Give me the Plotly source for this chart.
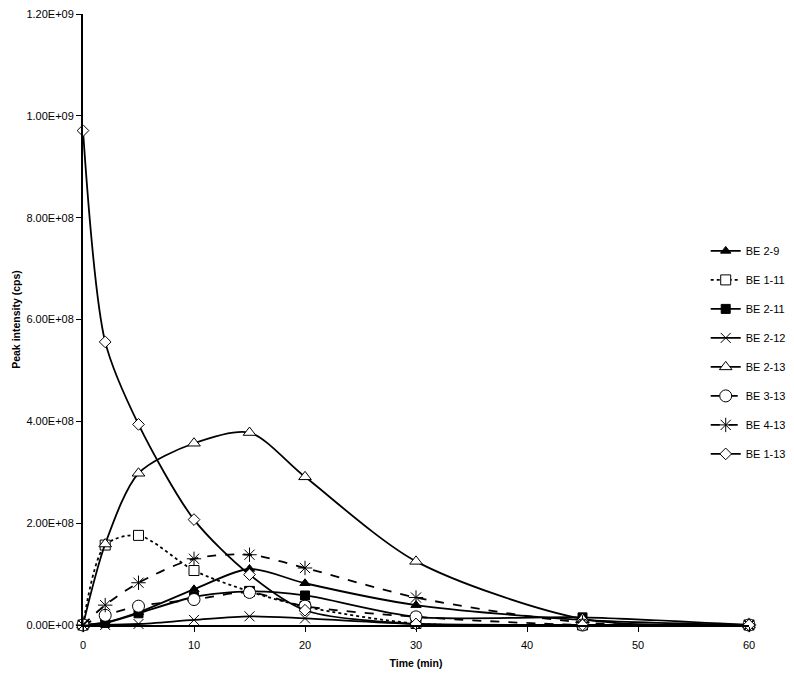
import plotly.graph_objects as go

time_min = [0, 2, 5, 10, 15, 20, 30, 45, 60]

be_2_9 = [0, 0.05e8, 0.25e8, 0.70e8, 1.10e8, 0.82e8, 0.39e8, 0.10e8, 0]
be_1_11 = [0, 1.57e8, 1.76e8, 1.07e8, 0.66e8, 0.36e8, 0.03e8, 0.0, 0]
be_2_11 = [0, 0.04e8, 0.23e8, 0.55e8, 0.66e8, 0.58e8, 0.16e8, 0.15e8, 0]
be_2_12 = [0, 0, 0.02e8, 0.10e8, 0.17e8, 0.13e8, 0.02e8, 0, 0]
be_2_13 = [0, 1.59e8, 2.98e8, 3.57e8, 3.78e8, 2.91e8, 1.25e8, 0.12e8, 0]
be_3_13 = [0, 0.19e8, 0.37e8, 0.50e8, 0.64e8, 0.37e8, 0.16e8, 0.0, 0]
be_4_13 = [0, 0.39e8, 0.83e8, 1.30e8, 1.38e8, 1.12e8, 0.54e8, 0.05e8, 0]
be_1_13 = [9.71e8, 5.56e8, 3.94e8, 2.07e8, 0.99e8, 0.29e8, 0.02e8, 0.0, 0]

series = [
    ("BE 2-9", be_2_9, "triangle-up", "black", "solid", 9),
    ("BE 1-11", be_1_11, "square", "white", "dot", 10),
    ("BE 2-11", be_2_11, "square", "black", "solid", 9),
    ("BE 2-12", be_2_12, "x-thin-open", "black", "solid", 10),
    ("BE 2-13", be_2_13, "triangle-up", "white", "solid", 11),
    ("BE 3-13", be_3_13, "circle", "white", "dash", 12),
    ("BE 4-13", be_4_13, "asterisk-open", "black", "dash", 12),
    ("BE 1-13", be_1_13, "diamond", "white", "solid", 9),
]

y_ticks = [0, 2e8, 4e8, 6e8, 8e8, 1e9, 1.2e9]
y_tick_labels = ["0.00E+00", "2.00E+08", "4.00E+08", "6.00E+08", "8.00E+08", "1.00E+09", "1.20E+09"]
x_ticks = [0, 10, 20, 30, 40, 50, 60]

fig = go.Figure()
for i, (name, vals, sym, fill, dash, size) in enumerate(series):
    fig.add_trace(go.Scatter(
        x=time_min, y=vals, name=name, mode="lines+markers",
        line=dict(color="black", width=1.8, dash=dash, shape="spline", smoothing=0.8),
        marker=dict(symbol=sym, size=size, color=fill,
                    line=dict(color="black", width=1)),
        legendgroup=f"g{i}", cliponaxis=False,
    ))

fig.update_layout(
    width=794, height=674,
    paper_bgcolor="white", plot_bgcolor="white",
    margin=dict(l=75, r=53, t=6, b=57),
    font=dict(family="Liberation Sans, Arial, sans-serif", size=11, color="black"),
    showlegend=True,
    legend=dict(x=0.935, y=0.636, xanchor="left", yanchor="top",
                bgcolor="rgba(0,0,0,0)", font=dict(size=11),
                tracegroupgap=10, traceorder="grouped", itemwidth=30),
    xaxis=dict(range=[0, 60], tickvals=x_ticks, showgrid=False, zeroline=False,
               showline=True, linecolor="black", linewidth=1.5,
               ticks="outside", ticklen=5, tickcolor="black", automargin=False,
               ticklabelstandoff=4,
               title=dict(text="<b>Time (min)</b>", font=dict(size=10.5), standoff=10)),
    yaxis=dict(range=[0, 1.2e9], tickvals=y_ticks, ticktext=y_tick_labels,
               showgrid=False, zeroline=False, automargin=False,
               ticklabeloverflow="allow",
               showline=True, linecolor="black", linewidth=2,
               ticks="outside", ticklen=5, tickcolor="black",
               title=dict(text="<b>Peak intensity (cps)</b>", font=dict(size=10.5), standoff=4)),
)

fig.write_html("out.html")
